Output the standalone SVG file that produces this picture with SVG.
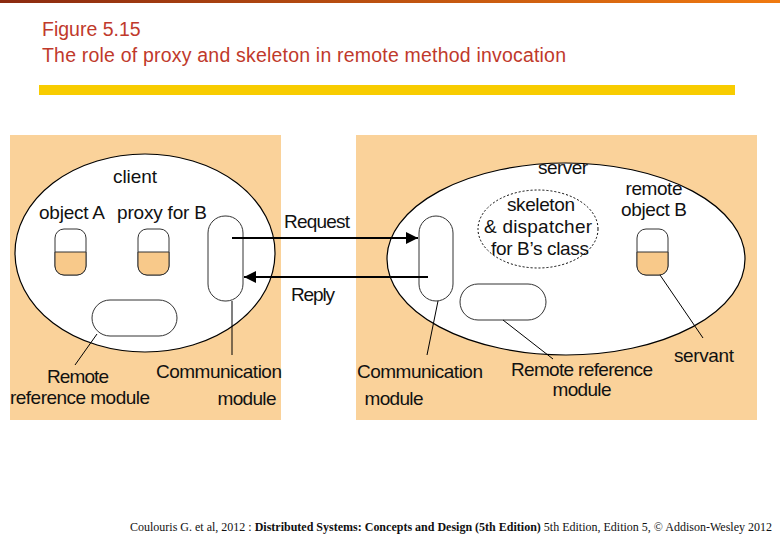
<svg xmlns="http://www.w3.org/2000/svg" width="780" height="540" viewBox="0 0 780 540">
<defs>
<linearGradient id="top" x1="0" x2="1"><stop offset="0" stop-color="#8B2A10"/><stop offset="1" stop-color="#F07A10"/></linearGradient>
<marker id="ahb" viewBox="0 0 10 10" refX="10" refY="5" markerWidth="20" markerHeight="12" markerUnits="userSpaceOnUse" orient="auto"><path d="M0,0L10,5L0,10z" fill="#000"/></marker>
</defs>
<style>
.t{font-family:"Liberation Sans",Arial,sans-serif}
.l{font-family:"Liberation Sans",Arial,sans-serif;font-size:19px;fill:#111;text-anchor:middle}
.ft{font-family:"Liberation Serif","Times New Roman",serif;font-size:12px;fill:#111}
.panel{fill:#FAD29A}
.ell{fill:#fff;stroke:#000;stroke-width:1.2}
.box{fill:#fff;stroke:#333;stroke-width:1}
.half{fill:#F8C98A;stroke:#333;stroke-width:1}
.ln{stroke:#000;stroke-width:1;fill:none}
.arr{stroke:#000;stroke-width:2;fill:none}
</style>
<rect width="780" height="540" fill="#fff"/>
<rect x="0" y="0" width="780" height="3" fill="url(#top)"/>
<text class="t" x="42" y="36" font-size="19.5" fill="#C0392B">Figure 5.15</text>
<text class="t" x="42" y="62" font-size="19.5" fill="#C0392B" textLength="524">The role of proxy and skeleton in remote method invocation</text>
<rect x="39" y="85" width="696" height="10" fill="#F8CC00"/>
<g id="client">
<rect class="panel" x="10" y="135" width="271" height="285"/>
<ellipse class="ell" cx="145" cy="253" rx="130" ry="99"/>
<text class="l" x="135" y="183" textLength="44">client</text>
</g>
<g id="objectA">
<text class="l" x="72" y="219" textLength="66">object A</text>
<rect class="box" x="55" y="229" width="31" height="46" rx="9"/>
<path class="half" d="M55,252H86V266A9,9 0 0 1 77,275H64A9,9 0 0 1 55,266Z"/>
</g>
<g id="proxyB">
<text class="l" x="162" y="219" textLength="90">proxy for B</text>
<rect class="box" x="138" y="229" width="31" height="46" rx="9"/>
<path class="half" d="M138,252H169V266A9,9 0 0 1 160,275H147A9,9 0 0 1 138,266Z"/>
</g>
<g id="clientComm">
<rect class="box" x="208" y="216" width="35" height="85" rx="17"/>
<text class="l" x="219" y="378" textLength="126">Communication</text>
<text class="l" x="247" y="405" textLength="59">module</text>
</g>
<g id="clientRRM">
<rect class="box" x="92" y="300" width="85" height="36" rx="18"/>
<text class="l" x="78" y="383" textLength="62">Remote</text>
<text class="l" x="80" y="404" textLength="140">reference module</text>
</g>
<g id="server">
<rect class="panel" x="356" y="135" width="401" height="285"/>
<ellipse class="ell" cx="566" cy="259" rx="179" ry="96"/>
<text class="l" x="563" y="174" textLength="50">server</text>
</g>
<g id="skeleton">
<ellipse cx="538" cy="229" rx="60" ry="39" fill="#fff" stroke="#000" stroke-dasharray="2,2"/>
<text class="l" x="541" y="211" textLength="68">skeleton</text>
<text class="l" x="538" y="233" textLength="108">&amp; dispatcher</text>
<text class="l" x="540" y="255" textLength="98">for B’s class</text>
</g>
<g id="remoteB">
<text class="l" x="654" y="195" textLength="57">remote</text>
<text class="l" x="654" y="216" textLength="66">object B</text>
<rect class="box" x="637" y="229" width="31" height="46" rx="9"/>
<path class="half" d="M637,252H668V266A9,9 0 0 1 659,275H646A9,9 0 0 1 637,266Z"/>
<text class="l" x="704" y="362" textLength="60">servant</text>
</g>
<g id="serverComm">
<rect class="box" x="419" y="216" width="34" height="85" rx="17"/>
<text class="l" x="420" y="378" textLength="126">Communication</text>
<text class="l" x="394" y="405" textLength="59">module</text>
</g>
<g id="serverRRM">
<rect class="box" x="460" y="284" width="86" height="36" rx="18"/>
<text class="l" x="582" y="376" textLength="142">Remote reference</text>
<text class="l" x="582" y="396" textLength="59">module</text>
</g>
<g id="connectors">
<line class="arr" x1="232" y1="238" x2="418" y2="238" marker-end="url(#ahb)"/>
<text class="l" x="317" y="228" textLength="66">Request</text>
<line class="arr" x1="428" y1="277" x2="244" y2="277" marker-end="url(#ahb)"/>
<text class="l" x="313" y="301" textLength="44">Reply</text>
<line class="ln" x1="232" y1="301" x2="232" y2="355"/>
<line class="ln" x1="97" y1="334" x2="75" y2="365"/>
<line class="ln" x1="438" y1="301" x2="427" y2="355"/>
<line class="ln" x1="503" y1="320" x2="553" y2="359"/>
<line class="ln" x1="660" y1="275" x2="703" y2="338"/>
</g>
<text class="ft" x="130" y="531" textLength="642">Coulouris G. et al, 2012 : <tspan font-weight="bold">Distributed Systems: Concepts and Design (5th Edition)</tspan> 5th Edition, Edition 5, © Addison-Wesley 2012</text>
</svg>
